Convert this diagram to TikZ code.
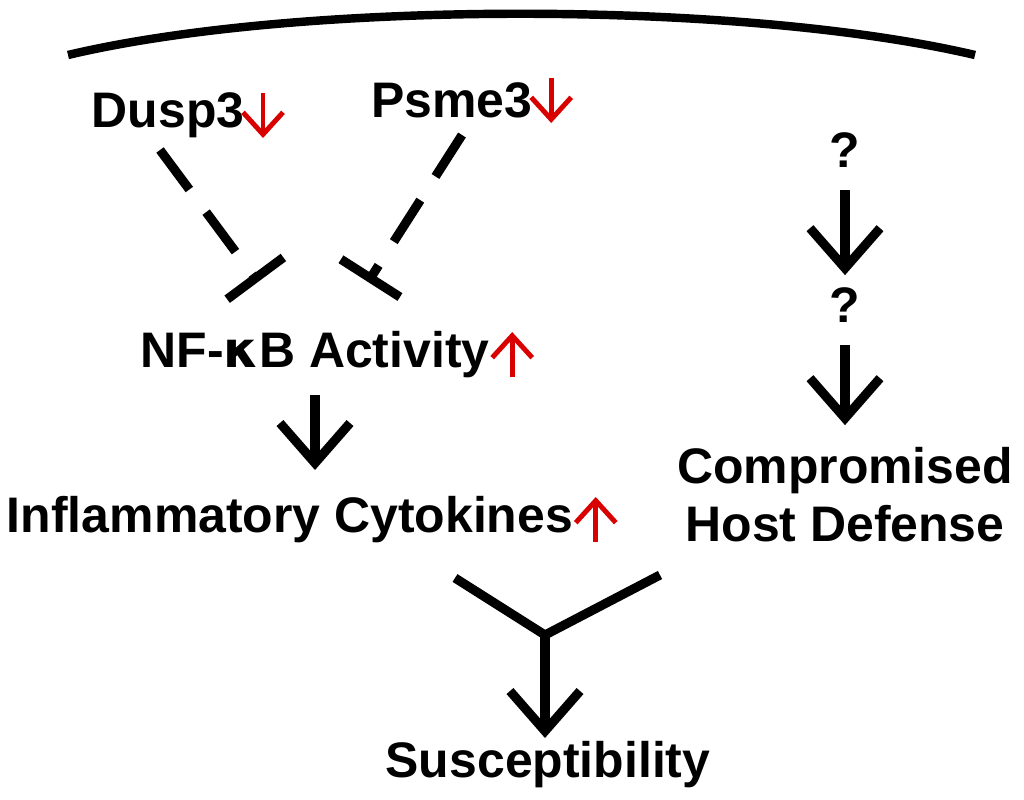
\documentclass[tikz,border=0pt]{standalone}
\usepackage{fontspec}
\setmainfont{Liberation Sans}
\usetikzlibrary{arrows.meta,positioning}
\tikzset{label text/.style={font=\bfseries\fontsize{14.2}{16.5}\selectfont, inner sep=0pt, align=center}}
\tikzset{main edge/.style={draw=black, line width=2.6pt}}
\tikzset{open arrow/.style={main edge, -{Straight Barb[length=4mm,width=7mm,line width=2.6pt]}}}
\tikzset{block edge/.style={main edge, dash pattern=on 14pt off 8pt, -{Bar[width=7mm,line width=2.6pt]}}}
\tikzset{red arrow/.style={draw=red!85!black, line width=1.4pt, -{Straight Barb[length=2.2mm,width=4mm]}}}

\begin{document}
\begin{tikzpicture}[x=0.01cm, y=-0.01cm]
  \useasboundingbox (0,0) rectangle (1024,800);

  \node [label text] (dusp)   at (168,115) {Dusp3};
  \node [label text] (psme)   at (452,100) {Psme3};
  \node [label text] (nfkb)   at (315,355) {NF-{\fontspec{DejaVu Sans}\bfseries κ}B Activity};
  \node [label text] (infl)   at (290,520) {Inflammatory Cytokines};
  \node [label text] (q1)     at (845,150) {?};
  \node [label text] (q2)     at (845,305) {?};
  \node [label text] (comp)   at (845,495) {Compromised\\Host Defense};
  \node [label text] (susc)   at (548,765) {Susceptibility};

  \coordinate (bar1) at (258,282);
  \coordinate (bar2) at (368,282);
  \coordinate (yl)   at (455,578);
  \coordinate (yr)   at (660,575);
  \coordinate (yc)   at (545,635);

  % top arc
  \draw [draw=black, line width=2.4pt] (68,55) .. controls (300,0) and (740,0) .. (975,55);

  % red indicators
  \draw [red arrow] (dusp.east) ++(18,-22) -- ++(0,45);
  \draw [red arrow] (psme.east) ++(18,-22) -- ++(0,45);
  \draw [red arrow] (nfkb.east) ++(22,22) -- ++(0,-45);
  \draw [red arrow] (infl.east) ++(22,22) -- ++(0,-45);

  % inhibition
  \draw [block edge] (160,150) -- (bar1);
  \draw [block edge] (462,135) -- (bar2);

  % activation
  \draw [open arrow] (nfkb.south |- 0,395) -- (nfkb.south |- 0,470);
  \draw [open arrow] (q1.south) ++(0,22) -- ++(0,85);
  \draw [open arrow] (q2.south) ++(0,22) -- ++(0,80);
  \draw [main edge] (yl) -- (yc) -- (yr);
  \draw [open arrow] (yc) -- (yc |- 0,738);
\end{tikzpicture}
\end{document}
